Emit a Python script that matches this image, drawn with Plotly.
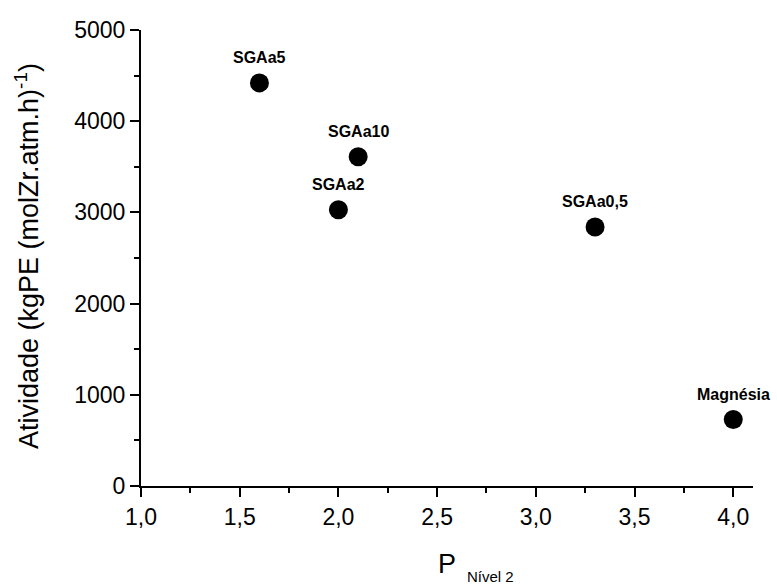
import plotly.graph_objects as go

# Data
samples = ["SGAa5", "SGAa10", "SGAa2", "SGAa0,5", "Magnésia"]
p_nivel2 = [1.6, 2.1, 2.0, 3.3, 4.0]
atividade = [4420, 3610, 3030, 2840, 730]

x_ticks = [1.0, 1.5, 2.0, 2.5, 3.0, 3.5, 4.0]
y_ticks = [0, 1000, 2000, 3000, 4000, 5000]

FONT = "Liberation Sans, Arial, sans-serif"

fig = go.Figure()
fig.add_trace(go.Scatter(
    x=p_nivel2, y=atividade, mode="markers",
    marker=dict(size=19, color="black"),
    cliponaxis=False, showlegend=False,
))

annotations = []
for name, xv, yv in zip(samples, p_nivel2, atividade):
    annotations.append(dict(
        x=xv, y=yv, xref="x", yref="y", text=f"<b>{name}</b>",
        showarrow=False, xanchor="center", yanchor="middle", yshift=25,
        font=dict(family=FONT, size=16, color="black"),
    ))

# y-axis title
annotations.append(dict(
    x=0, y=0.5, xref="paper", yref="paper",
    text="Atividade (kgPE (molZr.atm.h)<sup>-1</sup>)",
    textangle=-90, showarrow=False, xanchor="center", yanchor="middle",
    xshift=-114, yshift=2, font=dict(family=FONT, size=27, color="black"),
))
# x-axis title: P with subscript
annotations.append(dict(
    x=0.5, y=0, xref="paper", yref="paper", text="P",
    showarrow=False, xanchor="center", yanchor="middle", yshift=-78,
    font=dict(family=FONT, size=27, color="black"),
))
annotations.append(dict(
    x=0.5, y=0, xref="paper", yref="paper", text="Nível 2",
    showarrow=False, xanchor="left", yanchor="middle", xshift=18, yshift=-90,
    font=dict(family=FONT, size=15, color="black"),
))

axis_common = dict(
    showline=True, linewidth=2, linecolor="black", mirror=False,
    showgrid=False, zeroline=False,
    ticks="outside", ticklen=9, tickwidth=2, tickcolor="black",
    tickfont=dict(family=FONT, size=23, color="black"),
)

fig.update_layout(
    width=777, height=586,
    margin=dict(l=141, r=24, t=30, b=100),
    plot_bgcolor="white", paper_bgcolor="white",
    separators=",.",
    annotations=annotations,
    xaxis=dict(range=[1.0, 4.1], tickvals=x_ticks, tickformat=".1f",
               minor=dict(dtick=0.25, tick0=1.0, ticks="outside", ticklen=5,
                          tickwidth=2, tickcolor="black"),
               **axis_common),
    yaxis=dict(range=[0, 5000], tickvals=y_ticks, tickformat="d",
               minor=dict(dtick=500, tick0=0, ticks="outside", ticklen=5,
                          tickwidth=2, tickcolor="black"),
               **axis_common),
)

fig.write_html(
    "out.html",
    config={"displayModeBar": False},
    post_script="document.body.style.margin='0px';document.body.style.overflow='hidden';",
)
